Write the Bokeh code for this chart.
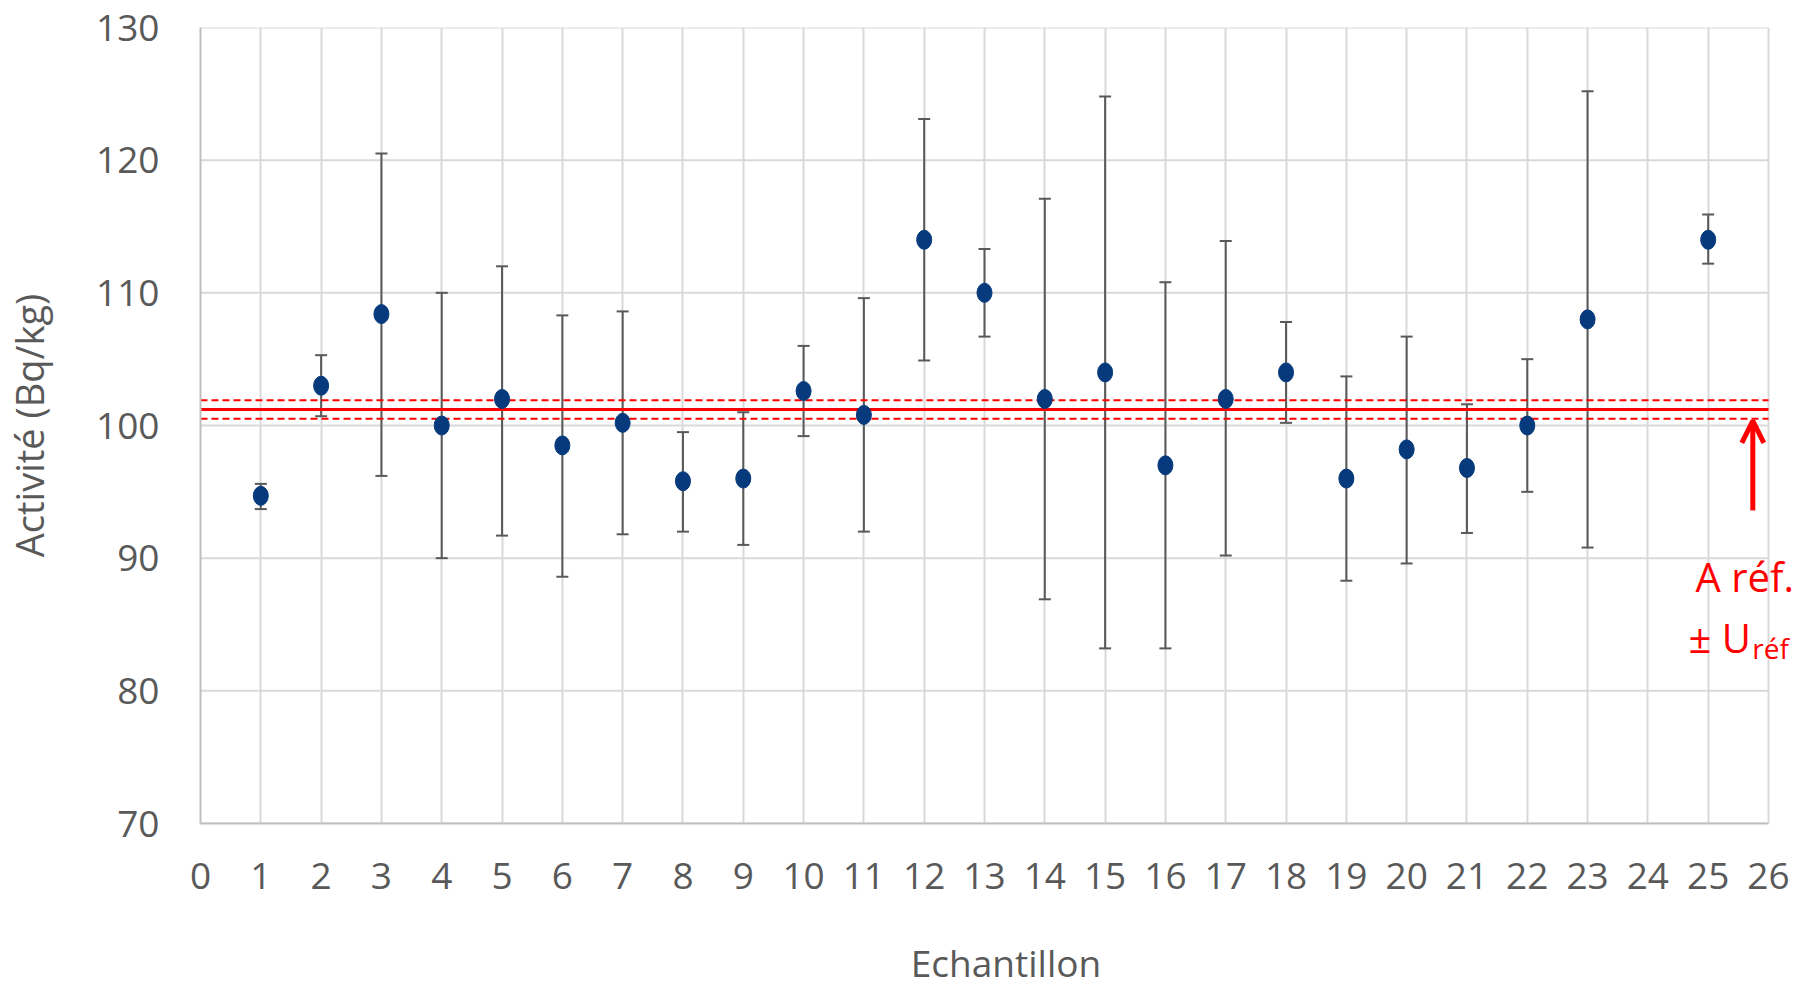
from bokeh.plotting import figure
from bokeh.models import (ColumnDataSource, Whisker, TeeHead, Label, Arrow,
                          OpenHead, FixedTicker, Range1d)
from bokeh.embed import file_html
from bokeh.resources import INLINE

# ---- data ----
samples = [1, 2, 3, 4, 5, 6, 7, 8, 9, 10, 11, 12, 13, 14, 15, 16, 17, 18, 19, 20, 21, 22, 23, 25]
activity = [94.7, 103.0, 108.4, 100.0, 102.0, 98.5, 100.2, 95.8, 96.0, 102.6, 100.8, 114.0,
            110.0, 102.0, 104.0, 97.0, 102.0, 104.0, 96.0, 98.2, 96.8, 100.0, 108.0, 114.0]
err_low = [93.7, 100.7, 96.2, 90.0, 91.7, 88.6, 91.8, 92.0, 91.0, 99.2, 92.0, 104.9,
           106.7, 86.9, 83.2, 83.2, 90.2, 100.2, 88.3, 89.6, 91.9, 95.0, 90.8, 112.2]
err_high = [95.6, 105.3, 120.5, 110.0, 112.0, 108.3, 108.6, 99.5, 101.0, 106.0, 109.6, 123.1,
            113.3, 117.1, 124.8, 110.8, 113.9, 107.8, 103.7, 106.7, 101.6, 105.0, 125.2, 115.9]
a_ref = 101.2
u_ref = 0.7
x_min, x_max = 0, 26
x_ticks = list(range(0, 27))
y_ticks = [70, 80, 90, 100, 110, 120, 130]

FONT = "Open Sans"
GREY = "#595959"
RED = "#ff0000"
PX_PER_UNIT = (1768 - 200) / 26.0
X_END = x_max + (1811 - 1768) / PX_PER_UNIT   # extra room on the right for the annotation text

src = ColumnDataSource(dict(x=samples, y=activity, lower=err_low, upper=err_high))

p = figure(width=1811, height=992, output_backend="svg", toolbar_location=None,
           x_range=Range1d(x_min, X_END), y_range=Range1d(70, 130),
           min_border_left=200, min_border_right=0, min_border_top=27, min_border_bottom=169)
p.outline_line_color = None
p.background_fill_color = "white"

# axes
p.xaxis.ticker = FixedTicker(ticks=x_ticks)
p.yaxis.ticker = FixedTicker(ticks=y_ticks)
p.xaxis.bounds = (x_min, x_max)
for ax in (p.xaxis[0], p.yaxis[0]):
    ax.major_tick_line_color = None
    ax.minor_tick_line_color = None
    ax.major_tick_out = 0
    ax.major_tick_in = 0
    ax.axis_line_color = "#bfbfbf"
    ax.axis_line_width = 2
    ax.major_label_text_font = FONT
    ax.major_label_text_font_size = "37px"
    ax.major_label_text_color = GREY
    ax.axis_label_text_font = FONT
    ax.axis_label_text_color = GREY
    ax.axis_label_text_font_style = "normal"

p.yaxis.axis_label = "Activité (Bq/kg)"
p.yaxis.axis_label_text_font_size = "38px"
p.yaxis.major_label_standoff = 41
p.yaxis.axis_label_standoff = 38
p.xaxis.axis_label = "Echantillon"
p.xaxis.axis_label_text_font_size = "37px"
p.xaxis.major_label_standoff = 39
p.xaxis.axis_label_standoff = 45

# grid: vertical lines via grid, horizontal lines drawn only over the 0..26 span
p.xgrid.grid_line_color = "#d9d9d9"
p.xgrid.grid_line_width = 2
p.ygrid.grid_line_color = None
p.segment(x0=[x_min] * len(y_ticks), x1=[x_max] * len(y_ticks), y0=y_ticks, y1=y_ticks,
          line_color="#d9d9d9", line_width=2, level="underlay")

# error bars
wh = Whisker(base="x", lower="lower", upper="upper", source=src,
             line_color=GREY, line_width=2, level="underlay",
             upper_head=TeeHead(size=12, line_color=GREY, line_width=2),
             lower_head=TeeHead(size=12, line_color=GREY, line_width=2))
p.add_layout(wh)

# reference value lines
p.segment(x0=[x_min], x1=[x_max], y0=[a_ref], y1=[a_ref], line_color=RED, line_width=3)
p.segment(x0=[x_min, x_min], x1=[x_max, x_max], y0=[a_ref + u_ref, a_ref - u_ref],
          y1=[a_ref + u_ref, a_ref - u_ref], line_color=RED, line_width=2, line_dash="7 4")

# points
p.ellipse(x="x", y="y", width=15, height=19, width_units="screen", height_units="screen",
          source=src, fill_color="#063a7c", line_color="#063a7c")

# annotation arrow + text
p.add_layout(Arrow(x_start=25.74, y_start=93.6, x_end=25.74, y_end=100.35,
                   line_color=RED, line_width=5,
                   end=OpenHead(size=22, line_color=RED, line_width=5)))
p.add_layout(Label(x=24.79, y=88.6, text="A réf.", text_color=RED, text_font=FONT,
                   text_font_size="40px", text_baseline="alphabetic", text_align="left"))
p.add_layout(Label(x=25.71, y=84.0, text="± U", text_color=RED, text_font=FONT,
                   text_font_size="40px", text_baseline="alphabetic", text_align="right"))
p.add_layout(Label(x=25.73, y=83.2, text="réf", text_color=RED, text_font=FONT,
                   text_font_size="28px", text_baseline="alphabetic", text_align="left"))

open("out.html", "w").write(file_html(p, INLINE))
